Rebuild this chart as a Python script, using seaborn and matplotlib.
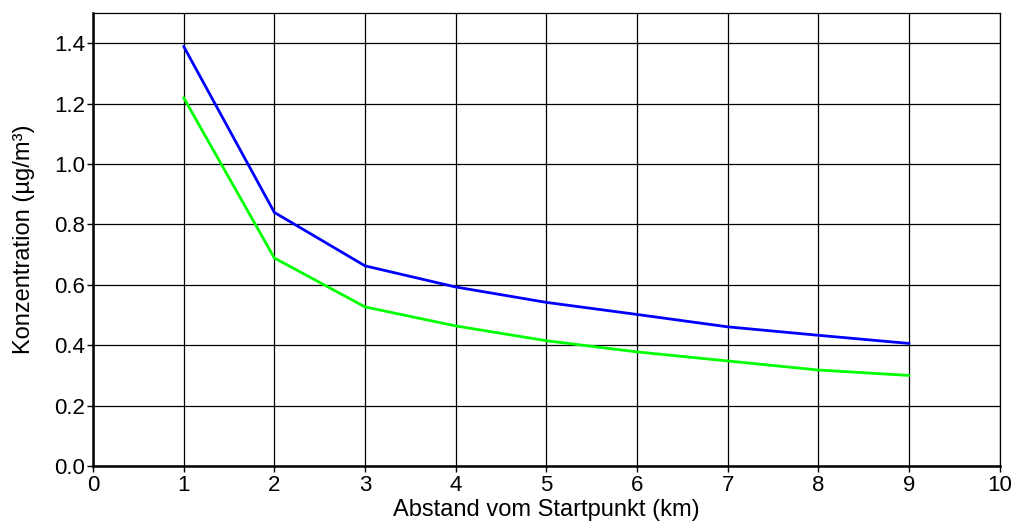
import numpy as np
import pandas as pd
import matplotlib
matplotlib.use("Agg")
import matplotlib.pyplot as plt
import seaborn as sns

distance_km = [1, 2, 3, 4, 5, 6, 7, 8, 9]
series_blue = [1.39, 0.84, 0.663, 0.593, 0.542, 0.502, 0.461, 0.433, 0.406]
series_green = [1.22, 0.689, 0.527, 0.464, 0.415, 0.378, 0.348, 0.318, 0.300]
series_names = ["Blau", "Grün"]
x_ticks = list(range(0, 11))
y_ticks = [0.0, 0.2, 0.4, 0.6, 0.8, 1.0, 1.2, 1.4]

df = pd.DataFrame({
    "x": distance_km * 2,
    "y": series_blue + series_green,
    "s": [series_names[0]] * len(distance_km) + [series_names[1]] * len(distance_km),
})

sns.set_theme(style="white")
plt.rcParams['font.family'] = ['Liberation Sans', 'DejaVu Sans']

fig = plt.figure(figsize=(10.13, 5.26), dpi=100)
ax = fig.add_axes([0.0918, 0.114, 0.987 - 0.0918, 0.975 - 0.114])

sns.lineplot(data=df, x="x", y="y", hue="s",
             palette={series_names[0]: "#0000ff", series_names[1]: "#00ff00"},
             linewidth=2.0, legend=False, ax=ax, zorder=3)

ax.set_xlim(0, 10)
ax.set_ylim(0, 1.5)
ax.set_xticks(x_ticks)
ax.set_xticklabels([str(t) for t in x_ticks])
ax.set_yticks(y_ticks)
ax.set_yticklabels([f"{t:.1f}" for t in y_ticks])
ax.grid(True, color="black", linewidth=0.9)
ax.set_axisbelow(True)

for side in ["top", "right"]:
    ax.spines[side].set_color("black")
    ax.spines[side].set_linewidth(0.9)
for side in ["left", "bottom"]:
    ax.spines[side].set_color("black")
    ax.spines[side].set_linewidth(1.8)

ax.tick_params(axis="x", which="major", direction="out", length=4, width=1,
               color="black", labelsize=16, labelcolor="black", pad=2.5,
               bottom=True)
ax.tick_params(axis="y", which="major", direction="out", length=4, width=1,
               color="black", labelsize=16, labelcolor="black", pad=1.5,
               left=True)
ax.set_xlabel("Abstand vom Startpunkt (km)", fontsize=17, color="black", labelpad=2)
ax.set_ylabel("Konzentration (µg/m³)", fontsize=17, color="black", labelpad=14)

fig.savefig("out.png", dpi=100)
